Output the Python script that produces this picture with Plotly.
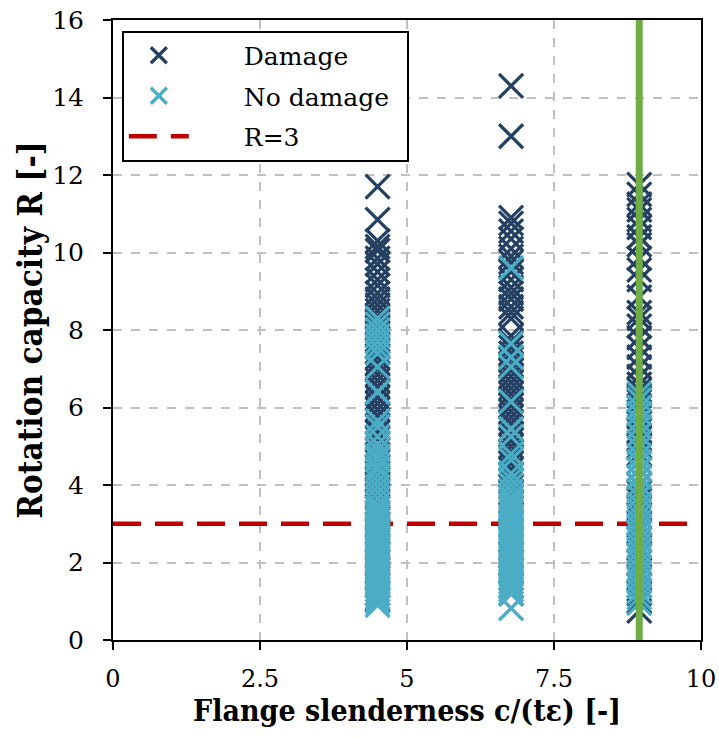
import plotly.graph_objects as go

# Flange slenderness positions of the three groups
x_groups = [4.5, 6.77, 8.95]

# Rotation capacity values
g1_damage = [11.7, 10.85, 10.3, 10.15, 10.05, 9.85, 9.7, 9.5, 9.3, 9.15, 8.95, 8.8, 8.65, 8.5, 8.35,
             8.2, 8.05, 7.9, 7.75, 7.6, 7.45, 7.3, 7.15, 7.0, 6.85, 6.7, 6.55, 6.4, 6.25, 6.1, 5.95,
             5.8, 5.65, 5.5, 5.35, 5.2, 5.05, 4.9, 4.75, 4.6, 4.45, 4.3, 4.15, 4.0, 3.85, 3.7, 3.55,
             3.4, 3.2, 3.0, 2.8, 2.6, 2.4, 2.2, 2.0, 1.8, 1.6, 1.4, 1.2, 1.05]
g1_nodamage = [8.3, 8.15, 8.0, 7.85, 7.7, 7.55, 7.4, 7.05, 6.4, 5.65, 5.5, 5.25, 5.05, 4.9, 4.75,
               4.65, 4.5, 4.4, 4.25, 4.1, 3.95, 3.8, 3.65, 3.5, 3.4, 3.3, 3.2, 3.1, 3.0, 2.9, 2.8,
               2.7, 2.6, 2.5, 2.4, 2.3, 2.2, 2.1, 2.0, 1.9, 1.8, 1.7, 1.6, 1.5, 1.4, 1.3, 1.2, 1.1,
               1.0, 0.9]
g2_damage = [14.3, 13.0, 10.9, 10.75, 10.55, 10.35, 10.1, 9.9, 9.75, 9.5, 9.3, 9.1, 8.95, 8.8, 8.6,
             8.45, 8.3, 7.85, 7.7, 7.55, 7.4, 7.25, 7.1, 6.95, 6.8, 6.65, 6.5, 6.35, 6.2, 6.05, 5.9,
             5.75, 5.6, 5.45, 5.3, 5.15, 5.0, 4.85, 4.7, 4.55, 4.4, 4.25, 4.1, 3.95, 3.8, 3.6, 3.4,
             3.2, 3.0, 2.8, 2.6, 2.4, 2.2, 2.0, 1.8, 1.6, 1.4, 1.2]
g2_nodamage = [9.6, 7.65, 7.3, 7.05, 6.15, 5.45, 5.25, 4.8, 4.65, 4.3, 4.15, 4.0, 3.85, 3.7, 3.6,
               3.5, 3.4, 3.3, 3.2, 3.1, 3.0, 2.9, 2.8, 2.7, 2.6, 2.5, 2.4, 2.3, 2.2, 2.1, 2.0, 1.9,
               1.8, 1.7, 1.6, 1.5, 1.4, 1.3, 1.2, 0.82]
g3_damage = [11.75, 11.5, 11.25, 11.1, 10.85, 10.65, 10.4, 10.2, 9.85, 9.55, 9.3, 8.85, 8.45, 8.3,
             8.1, 7.8, 7.55, 7.3, 7.05, 6.8, 6.6, 6.45, 6.3, 6.15, 6.0, 5.8, 5.6, 5.4, 5.2, 5.0, 4.8,
             4.6, 4.4, 4.2, 4.0, 3.8, 3.6, 3.4, 3.2, 3.0, 2.8, 2.6, 2.4, 2.2, 2.0, 1.8, 1.6, 1.4,
             1.2, 1.0, 0.75]
g3_nodamage = [6.35, 6.2, 6.0, 5.85, 5.65, 5.5, 5.3, 5.1, 4.95, 4.75, 4.6, 4.4, 4.2, 4.0, 3.85,
               3.7, 3.5, 3.35, 3.2, 3.05, 2.9, 2.75, 2.6, 2.45, 2.3, 2.15, 2.0, 1.85, 1.7, 1.55,
               1.4, 1.25, 1.1, 0.95]

R_limit = 3
limit_x = [0, 10]
green_x = 8.95
green_y = [0, 16]

damage_y = g1_damage + g2_damage + g3_damage
damage_x = ([x_groups[0]] * len(g1_damage) + [x_groups[1]] * len(g2_damage)
            + [x_groups[2]] * len(g3_damage))
nod_y = g1_nodamage + g2_nodamage + g3_nodamage
nod_x = ([x_groups[0]] * len(g1_nodamage) + [x_groups[1]] * len(g2_nodamage)
         + [x_groups[2]] * len(g3_nodamage))

DARK = "#244062"
LIGHT = "#4BACC6"
TFONT = "DejaVu Serif"
CFONT = "DejaVu Serif Condensed, DejaVu Serif"
SP = "\u2003\u2003"

fig = go.Figure()
fig.add_trace(go.Scatter(
    x=limit_x, y=[R_limit, R_limit], mode="lines", name=SP + "R=3", legendgroup="c",
    line=dict(color="#C00000", width=4.5, dash="28px,14px"), legendrank=3))
fig.add_trace(go.Scatter(
    x=damage_x, y=damage_y, mode="markers", name=SP + "Damage", legendgroup="a",
    marker=dict(symbol="x-thin", size=24, line=dict(color=DARK, width=3.3), color=DARK),
    legendrank=1))
fig.add_trace(go.Scatter(
    x=nod_x, y=nod_y, mode="markers", name=SP + "No damage\u2002", legendgroup="b",
    marker=dict(symbol="x-thin", size=24, line=dict(color=LIGHT, width=3.3), color=LIGHT),
    legendrank=2))
fig.add_trace(go.Scatter(
    x=[green_x, green_x], y=green_y, mode="lines", showlegend=False,
    line=dict(color="#70AD47", width=7)))

fig.update_layout(
    width=719, height=737,
    margin=dict(l=113, r=18, t=20, b=97, autoexpand=False),
    paper_bgcolor="white", plot_bgcolor="white",
    font=dict(family=TFONT, color="black", size=22),
    legend=dict(x=0.015, y=0.983, xanchor="left", yanchor="top",
                bgcolor="white", bordercolor="black", borderwidth=2,
                font=dict(family=TFONT, size=25), itemwidth=60,
                tracegroupgap=5),
    showlegend=True,
)
fig.update_xaxes(
    range=[0, 10], tickvals=[0, 2.5, 5, 7.5, 10], ticktext=["0", "2.5", "5", "7.5", "10"],
    showgrid=True, gridcolor="#C0C0C0", gridwidth=1.5, griddash="dash",
    showline=True, linecolor="black", linewidth=2, mirror=True,
    ticks="outside", ticklen=8, tickwidth=1.5, tickcolor="black",
    tickfont=dict(family=TFONT, size=24), zeroline=False, automargin=False,
    ticklabelstandoff=8, ticklabeloverflow="allow",
    title=dict(text="<b>Flange slenderness c/(tε) [-]</b>", font=dict(family=CFONT, size=30),
               standoff=2),
)
fig.update_yaxes(
    range=[0, 16], tickvals=list(range(0, 17, 2)),
    showgrid=True, gridcolor="#C0C0C0", gridwidth=1.5, griddash="dash",
    showline=True, linecolor="black", linewidth=2, mirror=True,
    ticks="outside", ticklen=8, tickwidth=1.5, tickcolor="black",
    tickfont=dict(family=TFONT, size=25), zeroline=False, automargin=False,
    ticklabelstandoff=14, ticklabeloverflow="allow",
    title=dict(text="<b>Rotation capacity R [-]</b>", font=dict(family=CFONT, size=33),
               standoff=0),
)

fig.write_html("out.html", config={"displayModeBar": False},
               post_script="document.body.style.margin='0';")
